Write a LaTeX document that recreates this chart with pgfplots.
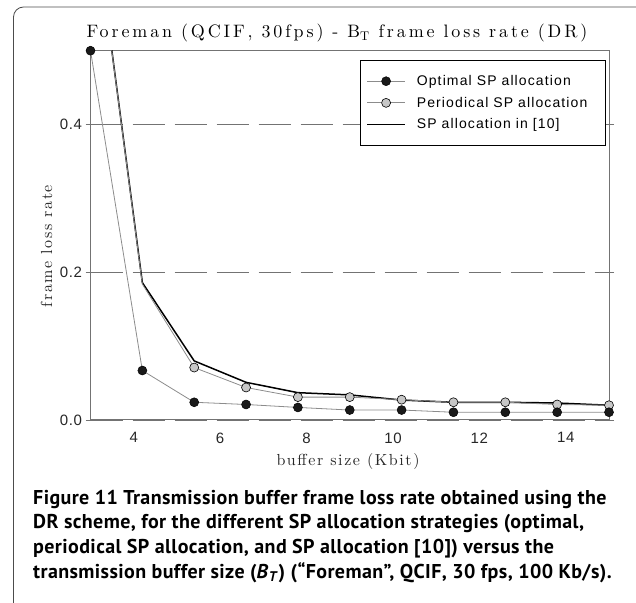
\documentclass[border=0pt]{standalone}
\usepackage{fontspec}
\usepackage{pgfplots}
\pgfplotsset{compat=1.18}
\newfontfamily\titlefont{lmroman10-regular.otf}[LetterSpace=16]
\newfontfamily\labfont{lmroman10-regular.otf}[LetterSpace=10]
\newfontfamily\sansf{Liberation Sans}[LetterSpace=4]
\newfontfamily\legf{Liberation Sans}[LetterSpace=8]
\newfontfamily\capf{PT Sans}[LetterSpace=2]
\definecolor{axgray}{gray}{0.45}
\definecolor{lngray}{gray}{0.55}
\definecolor{mkgray}{gray}{0.78}
\begin{document}
\begin{tikzpicture}
\useasboundingbox (0pt,0pt) rectangle (636pt,602pt);
% outer frame of the figure
\draw[black!70, line width=0.8pt, rounded corners=10pt] (13.5pt,-30pt) rectangle (680pt,595pt);

\begin{axis}[
  at={(90.5pt,182pt)}, anchor=south west,
  scale only axis, width=518.5pt, height=369.3pt,
  xmin=3, xmax=15, ymin=0, ymax=0.5,
  xtick={4,6,8,10,12,14}, xticklabels={4,6,8,10,12,14},
  ytick={0,0.2,0.4}, yticklabels={0.0,0.2,0.4},
  axis line style={axgray, line width=1pt},
  tick align=outside, major tick length=5pt,
  x tick style={draw=none}, y tick style={axgray, line width=0.8pt},
  tick label style={font=\fontsize{15}{18}\selectfont\sansf, text=black!85},
  xticklabel style={yshift=-4pt},
  ymajorgrids, grid style={axgray, line width=0.7pt, dash pattern=on 32pt off 10pt},
  clip mode=individual,
  legend style={at={(rel axis cs:0.994,0.975)}, anchor=north east,
    draw=black, line width=0.9pt, font=\fontsize{14}{16}\selectfont\legf,
    inner xsep=6pt, inner ysep=13pt, row sep=6pt,
    /tikz/every odd column/.append style={column sep=9pt}},
  legend cell align=left,
  legend image code/.code={
    \draw[mark repeat=2, mark phase=2, #1] plot coordinates {(0pt,0pt) (19pt,0pt) (38pt,0pt)};
  },
]
\addlegendimage{lngray, line width=0.8pt, mark=*, mark size=4.5pt, mark options={draw=black, fill=black!90, line width=0.5pt}}
\addlegendentry{Optimal SP allocation}
\addlegendimage{lngray, line width=0.8pt, mark=*, mark size=4.5pt, mark options={draw=black, fill=mkgray, line width=0.6pt}}
\addlegendentry{Periodical SP allocation\hspace*{10pt}}
\addlegendimage{black, line width=1.5pt}
\addlegendentry{SP allocation in [10]}

% SP allocation in [10]
\addplot[black, line width=1.5pt, forget plot] coordinates {
  (3,0.72) (4.2,0.186) (5.4,0.080) (6.6,0.051) (7.8,0.037) (9.0,0.034)
  (10.2,0.027) (11.4,0.024) (12.6,0.024) (13.8,0.023) (15,0.020)};

% periodical SP allocation
\addplot[lngray, line width=0.8pt, mark=*, mark size=4.5pt, mark indices={2,...,11},
  mark options={draw=black, fill=mkgray, line width=0.6pt}, forget plot] coordinates {
  (3,0.72) (4.2,0.184) (5.4,0.071) (6.6,0.044) (7.8,0.031) (9.0,0.031)
  (10.2,0.0275) (11.4,0.024) (12.6,0.024) (13.8,0.021) (15,0.020)};

% optimal SP allocation
\addplot[lngray, line width=0.8pt, mark=*, mark size=4.5pt,
  mark options={draw=black, fill=black!90, line width=0.5pt}, forget plot] coordinates {
  (3,0.5) (4.2,0.067) (5.4,0.024) (6.6,0.021) (7.8,0.017) (9.0,0.0135)
  (10.2,0.0135) (11.4,0.0105) (12.6,0.0105) (13.8,0.0105) (15,0.0105)};
\end{axis}

% title and axis labels
\node[anchor=base, font=\fontsize{18}{21}\selectfont\titlefont, text=black] at (337pt,564pt)
  {Foreman (QCIF, 30fps) - B\textsubscript{T} frame loss rate (DR)};
\node[anchor=base, font=\fontsize{16}{19}\selectfont\labfont, text=black!85] at (348pt,136pt)
  {buffer size (Kbit)};
\node[rotate=90, anchor=base, font=\fontsize{16}{19}\selectfont\labfont, text=black!85] at (52pt,356pt)
  {frame loss rate};

% caption
\begin{scope}[every node/.style={anchor=base west, inner sep=0pt,
    font=\fontsize{20}{24}\selectfont\capf\bfseries}]
\node at (33pt,98pt) {Figure 11 Transmission buffer frame loss rate obtained using the};
\node at (33pt,74pt) {DR scheme, for the different SP allocation strategies (optimal,};
\node at (33pt,49pt) {periodical SP allocation, and SP allocation [10]) versus the};
\node at (33pt,24pt) {transmission buffer size (\textit{B}\textsubscript{\textit{T}}) (“Foreman”, QCIF, 30 fps, 100 Kb/s).};
\end{scope}
\end{tikzpicture}
\end{document}
